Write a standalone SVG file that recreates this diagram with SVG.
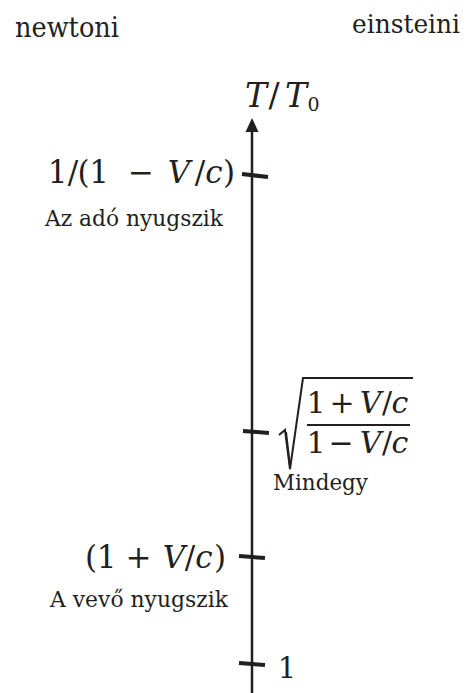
<svg xmlns="http://www.w3.org/2000/svg" width="469" height="693" viewBox="0 0 469 693">
  <style>
    text { fill: #231f20; font-family: 'DejaVu Serif', serif; }
    .math { text-anchor: middle; }
    .it { font-style: italic; }
    .tick { stroke: #231f20; stroke-width: 4; stroke-linecap: butt; fill: none; }
    .axis { stroke: #231f20; stroke-width: 2.5; fill: none; }
    .thin { stroke: #231f20; stroke-width: 2; fill: none; }
  </style>
  <rect width="469" height="693" fill="#ffffff"/>

  <g id="headers">
    <text x="15" y="37" font-size="27" textLength="104" lengthAdjust="spacingAndGlyphs">newtoni</text>
    <text x="352" y="33" font-size="26" textLength="108" lengthAdjust="spacingAndGlyphs">einsteini</text>
  </g>

  <g id="connectors">
    <line class="axis" x1="252" y1="130" x2="252" y2="693"/>
    <polygon points="252,118 245.5,132 258.5,132" fill="#231f20"/>
  </g>

  <g id="axis-label">
    <text class="math" font-size="33"><tspan class="it" x="256" y="107">T</tspan><tspan x="274" y="107">/</tspan><tspan class="it" x="296" y="107">T</tspan><tspan x="313.5" y="111" font-size="19">0</tspan></text>
  </g>

  <g id="tick-sender">
    <line class="tick" x1="242" y1="174" x2="268" y2="177"/>
    <text class="math" font-size="31" y="183"><tspan x="57.5">1</tspan><tspan x="73">/</tspan><tspan x="83.5">(</tspan><tspan x="99">1</tspan><tspan x="141">−</tspan><tspan class="it" x="179">V</tspan><tspan x="200">/</tspan><tspan class="it" x="214">c</tspan><tspan x="229">)</tspan></text>
    <text x="45" y="226" font-size="21.5" textLength="178" lengthAdjust="spacingAndGlyphs">Az adó nyugszik</text>
  </g>

  <g id="tick-mindegy">
    <line class="tick" x1="243" y1="431" x2="269" y2="433"/>
    <polyline class="thin" points="279,435 285,430 290,469 303,378 413,378"/>
    <line class="thin" x1="286" y1="432" x2="290" y2="466" stroke-width="3"/>
    <line class="thin" x1="307" y1="425" x2="410" y2="425"/>
    <text class="math" font-size="30" y="413"><tspan x="316">1</tspan><tspan x="342">+</tspan><tspan class="it" x="370.5">V</tspan><tspan x="387">/</tspan><tspan class="it" x="400">c</tspan></text>
    <text class="math" font-size="30" y="453"><tspan x="316">1</tspan><tspan x="341">−</tspan><tspan class="it" x="370.5">V</tspan><tspan x="387">/</tspan><tspan class="it" x="400">c</tspan></text>
    <text x="273" y="490" font-size="22.5" textLength="95" lengthAdjust="spacingAndGlyphs">Mindegy</text>
  </g>

  <g id="tick-receiver">
    <line class="tick" x1="239" y1="556" x2="265" y2="558"/>
    <text class="math" font-size="31" y="568"><tspan x="91">(</tspan><tspan x="106.5">1</tspan><tspan x="138.5">+</tspan><tspan class="it" x="174">V</tspan><tspan x="190">/</tspan><tspan class="it" x="204">c</tspan><tspan x="220">)</tspan></text>
    <text x="50" y="607" font-size="21.5" textLength="178" lengthAdjust="spacingAndGlyphs">A vevő nyugszik</text>
  </g>

  <g id="tick-one">
    <line class="tick" x1="239" y1="663" x2="265" y2="665"/>
    <text class="math" x="287" y="678" font-size="29">1</text>
  </g>
</svg>
